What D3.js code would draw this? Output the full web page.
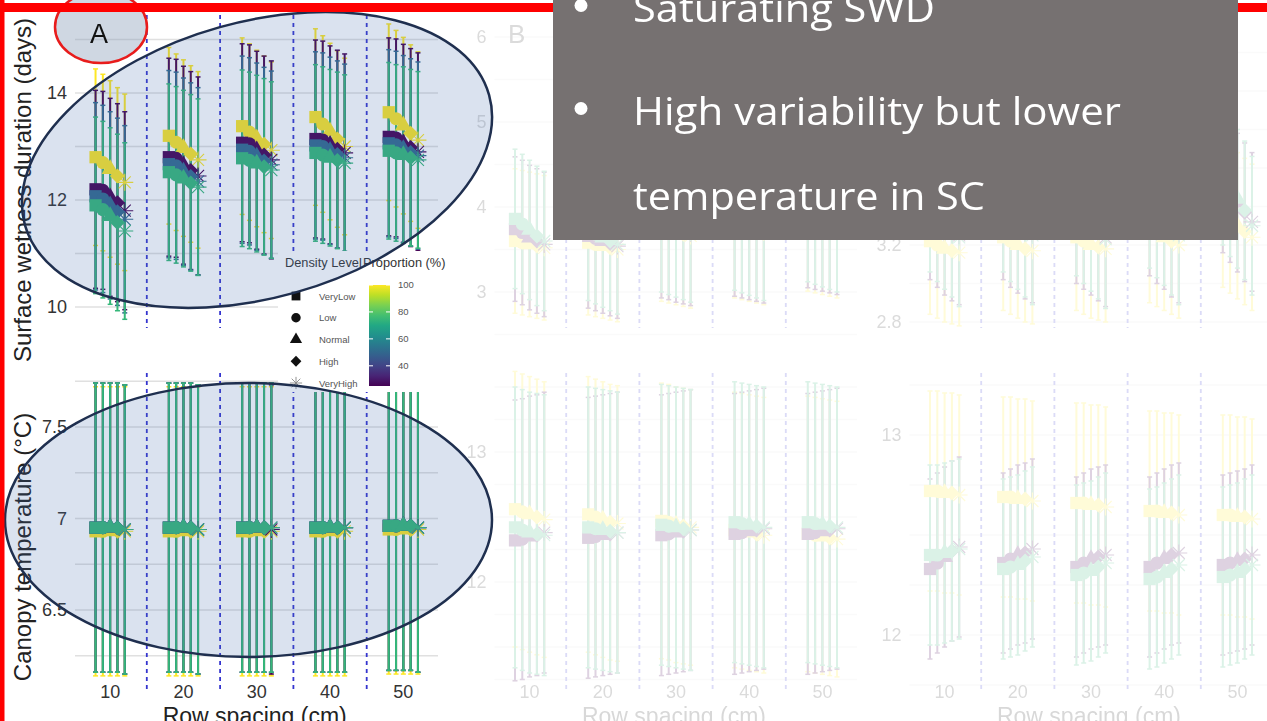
<!DOCTYPE html>
<html>
<head>
<meta charset="utf-8">
<script src="https://cdn.jsdelivr.net/npm/d3@7"></script>
<style>
  body { margin: 0; background: #fff; overflow: hidden; }
  svg { display: block; }
</style>
</head>
<body>
<svg id="chart" width="1267" height="721"></svg>
<script>
// ---- categories ----
const rowSpacing = [10, 20, 30, 40, 50]
const densityLevels = ["VeryLow", "Low", "Normal", "High", "VeryHigh"]
const legendTicks = [40, 60, 80, 100]

// ---- panel A, surface wetness duration (days): rows = row spacing, cols = density ----
const swdA25 = [[12.20, 12.18, 12.05, 11.95, 11.80], [12.80, 12.78, 12.65, 12.55, 12.45], [13.07, 13.05, 12.93, 12.84, 12.75], [13.14, 13.12, 13.03, 12.95, 12.88], [13.18, 13.16, 13.06, 12.98, 12.90]]
const swdA50 = [[12.07, 12.02, 11.90, 11.78, 11.64], [12.67, 12.64, 12.53, 12.44, 12.35], [12.94, 12.91, 12.81, 12.73, 12.66], [13.02, 13.00, 12.92, 12.85, 12.79], [13.06, 13.03, 12.95, 12.89, 12.83]]
const swdA75 = [[11.90, 11.82, 11.70, 11.58, 11.42], [12.52, 12.47, 12.40, 12.32, 12.24], [12.78, 12.74, 12.68, 12.62, 12.56], [12.88, 12.84, 12.79, 12.74, 12.69], [12.92, 12.88, 12.84, 12.79, 12.75]]
const swdA100 = [[12.80, 12.70, 12.58, 12.45, 12.33], [13.20, 13.08, 12.97, 12.86, 12.75], [13.38, 13.27, 13.15, 13.04, 12.93], [13.55, 13.42, 13.28, 13.14, 13.00], [13.64, 13.52, 13.39, 13.25, 13.12]]
const swdHalfA = [1.85, 1.75, 1.65, 1.65]

// ---- panel A, canopy temperature (°C) ----
const tempA25 = [[6.95, 6.95, 6.95, 6.95, 6.94], [6.95, 6.95, 6.95, 6.95, 6.94], [6.95, 6.95, 6.95, 6.95, 6.94], [6.95, 6.95, 6.95, 6.95, 6.95], [6.96, 6.96, 6.96, 6.96, 6.95]]
const tempA50 = [[6.95, 6.95, 6.95, 6.95, 6.94], [6.95, 6.95, 6.95, 6.95, 6.94], [6.95, 6.95, 6.95, 6.95, 6.95], [6.95, 6.95, 6.95, 6.95, 6.95], [6.96, 6.96, 6.96, 6.96, 6.95]]
const tempA75 = [[6.95, 6.95, 6.95, 6.95, 6.94], [6.95, 6.95, 6.95, 6.95, 6.94], [6.95, 6.95, 6.95, 6.95, 6.95], [6.95, 6.95, 6.95, 6.95, 6.95], [6.96, 6.96, 6.96, 6.96, 6.95]]
const tempA100 = [[6.93, 6.93, 6.93, 6.93, 6.93], [6.93, 6.93, 6.93, 6.93, 6.93], [6.93, 6.93, 6.93, 6.93, 6.93], [6.93, 6.93, 6.93, 6.93, 6.93], [6.94, 6.94, 6.94, 6.94, 6.94]]
const tempHalfA = [0.79, 0.79, 0.79, 0.79]

// ---- panel B (faded) ----
const swdB25 = [[3.74, 3.70, 3.64, 3.60, 3.56], [3.66, 3.63, 3.60, 3.57, 3.54], [3.78, 3.76, 3.73, 3.71, 3.69], [3.80, 3.78, 3.76, 3.74, 3.72], [3.90, 3.88, 3.86, 3.84, 3.82]]
const swdB75 = [[3.86, 3.80, 3.73, 3.66, 3.60], [3.72, 3.68, 3.64, 3.60, 3.56], [3.82, 3.79, 3.76, 3.73, 3.70], [3.84, 3.81, 3.78, 3.75, 3.72], [3.94, 3.91, 3.88, 3.85, 3.82]]
const swdB100 = [[3.60, 3.58, 3.56, 3.54, 3.52], [3.58, 3.56, 3.54, 3.52, 3.50], [3.74, 3.72, 3.70, 3.68, 3.66], [3.78, 3.76, 3.74, 3.72, 3.70], [3.86, 3.84, 3.82, 3.80, 3.78]]
const swdHalfB = [0.85, 0.82, 0.85]
const tempB25 = [[12.32, 12.33, 12.35, 12.36, 12.38], [12.34, 12.35, 12.36, 12.37, 12.38], [12.36, 12.37, 12.38, 12.39, 12.40], [12.37, 12.38, 12.39, 12.40, 12.41], [12.37, 12.38, 12.39, 12.40, 12.41]]
const tempB75 = [[12.42, 12.40, 12.38, 12.37, 12.36], [12.42, 12.41, 12.40, 12.39, 12.38], [12.44, 12.43, 12.42, 12.41, 12.40], [12.46, 12.45, 12.44, 12.43, 12.42], [12.46, 12.45, 12.44, 12.43, 12.42]]
const tempB100 = [[12.56, 12.54, 12.52, 12.50, 12.48], [12.52, 12.50, 12.48, 12.46, 12.45], [12.47, 12.46, 12.44, 12.43, 12.42], [12.40, 12.39, 12.38, 12.37, 12.36], [12.37, 12.36, 12.35, 12.34, 12.33]]
const tempHalfB = [1.08, 1.08, 1.06]

// ---- panel C (faded) ----
const swdC25 = [[3.38, 3.34, 3.30, 3.27, 3.25], [3.38, 3.34, 3.31, 3.28, 3.26], [3.36, 3.33, 3.30, 3.27, 3.24], [3.40, 3.36, 3.33, 3.29, 3.26], [3.52, 3.47, 3.42, 3.37, 3.32]]
const swdC75 = [[3.42, 3.37, 3.33, 3.29, 3.24], [3.42, 3.37, 3.33, 3.29, 3.25], [3.40, 3.36, 3.32, 3.28, 3.23], [3.44, 3.39, 3.35, 3.30, 3.25], [3.56, 3.50, 3.44, 3.38, 3.30]]
const swdC100 = [[3.22, 3.20, 3.18, 3.17, 3.16], [3.24, 3.22, 3.20, 3.18, 3.17], [3.24, 3.22, 3.20, 3.19, 3.18], [3.28, 3.26, 3.24, 3.22, 3.20], [3.36, 3.33, 3.30, 3.27, 3.24]]
const swdHalfC = [0.36, 0.36, 0.38]
const tempC25 = [[12.33, 12.36, 12.39, 12.42, 12.44], [12.36, 12.38, 12.40, 12.41, 12.43], [12.34, 12.36, 12.38, 12.39, 12.40], [12.34, 12.36, 12.38, 12.40, 12.41], [12.35, 12.36, 12.37, 12.38, 12.40]]
const tempC75 = [[12.40, 12.40, 12.41, 12.42, 12.43], [12.33, 12.34, 12.35, 12.37, 12.39], [12.30, 12.31, 12.32, 12.34, 12.36], [12.28, 12.29, 12.31, 12.33, 12.35], [12.29, 12.30, 12.31, 12.33, 12.35]]
const tempC100 = [[12.72, 12.72, 12.71, 12.71, 12.70], [12.69, 12.69, 12.68, 12.68, 12.67], [12.66, 12.66, 12.65, 12.65, 12.64], [12.62, 12.62, 12.61, 12.61, 12.60], [12.60, 12.60, 12.59, 12.59, 12.58]]
const tempHalfC = [0.45, 0.45, 0.5]

// drawing order: 100% first, then the rest ascending (green ends on top)
const propsA = [100, 25, 50, 75]
const propsBC = [100, 25, 75]

const svg = d3.select("#chart")
const font = "Liberation Sans, Arial, sans-serif"
const color = d3.scaleSequential(d3.interpolateViridis).domain([25, 100])
const dodge = d3.scalePoint().domain(densityLevels).range([-14.6, 14.6])

function shapePath(level, s) {
  if (level === "VeryLow") return d3.symbol(d3.symbolSquare, 150 * s * s)()
  if (level === "Low") return d3.symbol(d3.symbolCircle, 135 * s * s)()
  if (level === "Normal") return d3.symbol(d3.symbolTriangle, 125 * s * s)()
  let r = 7.5 * s
  if (level === "High") return `M0,${-r}L${r},0L0,${r}L${-r},0Z`
  r = 8.5 * s
  let k = r * 0.7071
  return `M${-r},0L${r},0M0,${-r}L0,${r}M${-k},${-k}L${k},${k}M${-k},${k}L${k},${-k}`
}

function buildSeries(props, mats, halves) {
  let sorted = [25, 50, 75, 100].filter(v => props.includes(v))
  return props.map(p => {
    let i = sorted.indexOf(p)
    return { prop: p, means: mats[i], half: halves[i] }
  })
}

// one subplot: grid, ticks, separators, error bars, points
function drawFacet(g, x, y, opt) {
  let [x0, x1] = x.range()
  g.append("g").selectAll("line").data(opt.grid).join("line")
    .attr("x1", x0 + 1.5).attr("x2", x1 - 2)
    .attr("y1", d => y(d)).attr("y2", d => y(d))
    .attr("stroke", "#e0e0e0").attr("stroke-width", 1.3)
  g.append("g").selectAll("text").data(opt.ticks).join("text")
    .attr("x", x0 - 6.5).attr("y", d => y(d)).attr("dy", "0.35em")
    .attr("text-anchor", "end").attr("font-family", font).attr("font-size", 18)
    .attr("fill", "#333").text(d => opt.fmt ? opt.fmt(d) : d)
  g.append("g").selectAll("line").data(rowSpacing.slice(1)).join("line")
    .attr("x1", d => x(d)).attr("x2", d => x(d))
    .attr("y1", opt.sep[0]).attr("y2", opt.sep[1])
    .attr("stroke", "#3535cf").attr("stroke-width", 1.8).attr("stroke-dasharray", "4,4")

  let rows = []
  opt.series.forEach(s => {
    rowSpacing.forEach((rs, i) => {
      densityLevels.forEach((dl, j) => {
        rows.push({ prop: s.prop, half: s.half, rs: rs, dl: dl, m: s.means[i][j] })
      })
    })
  })
  let cx = d => x(d.rs) + x.bandwidth() / 2 + dodge(d.dl)
  let bars = g.append("g").selectAll("g").data(rows).join("g")
  bars.append("line")
    .attr("x1", cx).attr("x2", cx)
    .attr("y1", d => y(d.m - d.half)).attr("y2", d => y(d.m + d.half))
    .attr("stroke", d => color(d.prop)).attr("stroke-width", 2)
  ;[-1, 1].forEach(sgn => {
    bars.append("line")
      .attr("x1", d => cx(d) - 2.5).attr("x2", d => cx(d) + 2.5)
      .attr("y1", d => y(d.m + sgn * d.half)).attr("y2", d => y(d.m + sgn * d.half))
      .attr("stroke", d => color(d.prop)).attr("stroke-width", 1.5)
  })
  g.append("g").selectAll("path").data(rows).join("path")
    .attr("transform", d => `translate(${cx(d)},${y(d.m)})`)
    .attr("d", d => shapePath(d.dl, 1))
    .attr("fill", d => d.dl === "VeryHigh" ? "none" : color(d.prop))
    .attr("stroke", d => d.dl === "VeryHigh" ? color(d.prop) : "none")
    .attr("stroke-width", 1.1)
}

function drawPanel(g, cfg) {
  let x = d3.scaleBand().domain(rowSpacing).range(cfg.band)
  drawFacet(g, x, cfg.yTop, { grid: cfg.gridTop, ticks: cfg.ticksTop, fmt: cfg.fmtTop, sep: [15, 328], series: cfg.top })
  drawFacet(g, x, cfg.yBot, { grid: cfg.gridBot, ticks: cfg.ticksBot, sep: [373, 690], series: cfg.bot })
  g.append("g").selectAll("text").data(rowSpacing).join("text")
    .attr("x", d => x(d) + x.bandwidth() / 2).attr("y", 698)
    .attr("text-anchor", "middle").attr("font-family", font).attr("font-size", 18)
    .attr("fill", "#333").text(d => d)
  g.append("text")
    .attr("x", (cfg.band[0] + cfg.band[1]) / 2 - 2).attr("y", 724)
    .attr("text-anchor", "middle").attr("font-family", font).attr("font-size", 23)
    .attr("fill", "#222").text("Row spacing (cm)")
  return x
}

svg.append("rect").attr("width", 1267).attr("height", 721).attr("fill", "#fff")

// faded panels B and C
const gB = svg.append("g").attr("opacity", 0.18)
drawPanel(gB, {
  band: [493, 859],
  yTop: d3.scaleLinear().domain([3, 6]).range([292, 37]),
  gridTop: [2.5, 3, 3.5, 4, 4.5, 5, 5.5, 6], ticksTop: [3, 4, 5, 6],
  top: buildSeries(propsBC, [swdB25, swdB75, swdB100], swdHalfB),
  yBot: d3.scaleLinear().domain([12, 13]).range([582, 452]),
  gridBot: [11.25, 11.5, 11.75, 12, 12.25, 12.5, 12.75, 13, 13.25, 13.5], ticksBot: [12, 13],
  bot: buildSeries(propsBC, [tempB25, tempB75, tempB100], tempHalfB)
})
gB.append("text").attr("x", 508).attr("y", 43).attr("font-family", font)
  .attr("font-size", 26).attr("fill", "#333").text("B")

const gC = svg.append("g").attr("opacity", 0.18)
drawPanel(gC, {
  band: [908, 1274],
  yTop: d3.scaleLinear().domain([2.8, 3.2]).range([322, 245]),
  gridTop: [2.8, 3.0, 3.2, 3.4, 3.6, 3.8, 4.0, 4.2], ticksTop: [2.8, 3.2, 3.6, 4.0], fmtTop: d3.format(".1f"),
  top: buildSeries(propsBC, [swdC25, swdC75, swdC100], swdHalfC),
  yBot: d3.scaleLinear().domain([12, 13]).range([635, 435]),
  gridBot: [11.75, 12, 12.25, 12.5, 12.75, 13, 13.25], ticksBot: [12, 13],
  bot: buildSeries(propsBC, [tempC25, tempC75, tempC100], tempHalfC)
})

// panel A
const gA = svg.append("g")
drawPanel(gA, {
  band: [73.5, 440],
  yTop: d3.scaleLinear().domain([10, 14]).range([307, 93]),
  gridTop: [10, 11, 12, 13, 14, 15], ticksTop: [10, 12, 14],
  top: buildSeries(propsA, [swdA25, swdA50, swdA75, swdA100], swdHalfA),
  yBot: d3.scaleLinear().domain([6.5, 7.5]).range([610, 427]),
  gridBot: [6.25, 6.5, 6.75, 7, 7.25, 7.5, 7.75], ticksBot: [6.5, 7, 7.5],
  bot: buildSeries(propsA, [tempA25, tempA50, tempA75, tempA100], tempHalfA)
})
gA.append("text").attr("transform", "translate(31,190) rotate(-90)")
  .attr("text-anchor", "middle").attr("font-family", font).attr("font-size", 24)
  .attr("fill", "#222").text("Surface wetness duration (days)")
gA.append("text").attr("transform", "translate(31,547) rotate(-90)")
  .attr("text-anchor", "middle").attr("font-family", font).attr("font-size", 24)
  .attr("fill", "#222").text("Canopy temperature (°C)")

// legend
const lg = svg.append("g")
lg.append("rect").attr("x", 278).attr("y", 251).attr("width", 174).attr("height", 141).attr("fill", "#fff")
lg.append("text").attr("x", 285).attr("y", 267).attr("font-family", font).attr("font-size", 12.8)
  .attr("fill", "#333").text("Density Level")
lg.append("text").attr("x", 363).attr("y", 267).attr("font-family", font).attr("font-size", 12.8)
  .attr("fill", "#333").text("Proportion (%)")
const keyY = d3.scalePoint().domain(densityLevels).range([296, 383])
const keys = lg.selectAll(".key").data(densityLevels).join("g").attr("class", "key")
  .attr("transform", d => `translate(296,${keyY(d)})`)
keys.append("path").attr("d", d => shapePath(d, 0.72))
  .attr("fill", d => d === "VeryHigh" ? "none" : "#111")
  .attr("stroke", d => d === "VeryHigh" ? "#888" : "none").attr("stroke-width", 0.9)
keys.append("text").attr("x", 23).attr("y", 3.5).attr("font-family", font).attr("font-size", 9.5)
  .attr("fill", "#555").text(d => d)

const grad = svg.append("defs").append("linearGradient").attr("id", "vir")
  .attr("x1", 0).attr("y1", 1).attr("x2", 0).attr("y2", 0)
grad.selectAll("stop").data(d3.range(0, 1.001, 0.1)).join("stop")
  .attr("offset", d => d).attr("stop-color", d => color(25 + 75 * d))
const cbar = d3.scaleLinear().domain([25, 100]).range([386, 285])
lg.append("rect").attr("x", 369).attr("y", 285).attr("width", 21).attr("height", 101).attr("fill", "url(#vir)")
lg.selectAll(".tk").data(legendTicks).join("g").attr("class", "tk").each(function (d) {
  let t = d3.select(this)
  t.append("line").attr("x1", 369).attr("x2", 373).attr("y1", cbar(d)).attr("y2", cbar(d)).attr("stroke", "#fff")
  t.append("line").attr("x1", 386).attr("x2", 390).attr("y1", cbar(d)).attr("y2", cbar(d)).attr("stroke", "#fff")
  t.append("text").attr("x", 398).attr("y", cbar(d)).attr("dy", "0.35em").attr("font-family", font)
    .attr("font-size", 9.5).attr("fill", "#555").text(d)
})

// slide overlays
svg.append("ellipse").attr("cx", 257).attr("cy", 160).attr("rx", 241).attr("ry", 138)
  .attr("transform", "rotate(-15.6 257 160)")
  .attr("fill", "rgb(70,110,175)").attr("fill-opacity", 0.2)
  .attr("stroke", "#1f2f4f").attr("stroke-width", 2.5)
svg.append("ellipse").attr("cx", 248.5).attr("cy", 520).attr("rx", 243.5).attr("ry", 137)
  .attr("fill", "rgb(70,110,175)").attr("fill-opacity", 0.2)
  .attr("stroke", "#1f2f4f").attr("stroke-width", 2.5)
svg.append("ellipse").attr("cx", 101).attr("cy", 27).attr("rx", 46).attr("ry", 36)
  .attr("fill", "rgb(130,150,180)").attr("fill-opacity", 0.38)
  .attr("stroke", "#e81c1c").attr("stroke-width", 2.5)
svg.append("text").attr("x", 99).attr("y", 43).attr("text-anchor", "middle")
  .attr("font-family", font).attr("font-size", 27).attr("fill", "#111").text("A")

svg.append("rect").attr("x", 0).attr("y", 3).attr("width", 1267).attr("height", 9).attr("fill", "#ff0000")
svg.append("rect").attr("x", 0).attr("y", 0).attr("width", 4.5).attr("height", 721).attr("fill", "#ff0000")

// text box
const box = svg.append("g")
box.append("rect").attr("x", 553).attr("y", 0).attr("width", 685).attr("height", 240).attr("fill", "#767171")
const bullets = [
  { text: "Saturating SWD", y: 22, len: 302, dot: true },
  { text: "High variability but lower", y: 125, len: 488, dot: true },
  { text: "temperature in SC", y: 210, len: 352, dot: false }
]
box.selectAll("circle").data(bullets.filter(d => d.dot)).join("circle")
  .attr("cx", 581).attr("cy", d => d.y - 16.5).attr("r", 6.5).attr("fill", "#fff")
box.selectAll("text").data(bullets).join("text")
  .attr("x", 633).attr("y", d => d.y).attr("font-family", "Open Sans, sans-serif")
  .attr("font-size", 39).attr("fill", "#fff")
  .attr("textLength", d => d.len).attr("lengthAdjust", "spacingAndGlyphs")
  .text(d => d.text)
</script>
</body>
</html>
